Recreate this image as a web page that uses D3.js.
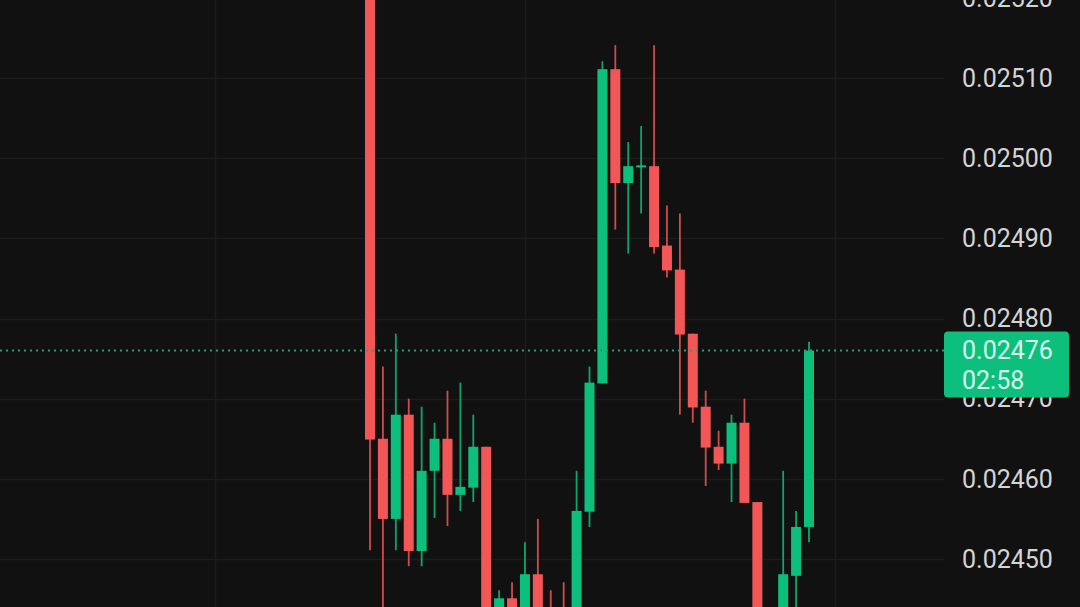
<!DOCTYPE html>
<html>
<head>
<meta charset="utf-8">
<script src="https://cdn.jsdelivr.net/npm/d3@7"></script>
<style>
  html, body { margin: 0; padding: 0; background: #111111; overflow: hidden; }
  svg { display: block; }
  text { font-family: Roboto, "Noto Sans", sans-serif; }
</style>
</head>
<body>
<svg id="chart"></svg>
<script>
// candle data (index = bar number), prices
const opens  = [0.025320, 0.024650, 0.024550, 0.024680, 0.024510, 0.024610, 0.024650, 0.024580, 0.024589, 0.024640,
                0.024420, 0.024451, 0.024430, 0.024481, 0.024430, 0.024420, 0.024430, 0.024559, 0.024719, 0.025111,
                0.024969, 0.024990, 0.024990, 0.024891, 0.024861, 0.024781, 0.024690, 0.024640, 0.024619, 0.024670,
                0.024571, 0.024400, 0.024420, 0.024479, 0.024540];
const highs  = [0.025350, 0.024740, 0.024781, 0.024700, 0.024690, 0.024670, 0.024710, 0.024720, 0.024680, 0.024640,
                0.024461, 0.024471, 0.024521, 0.024550, 0.024461, 0.024471, 0.024610, 0.024740, 0.025121, 0.025141,
                0.025020, 0.025040, 0.025141, 0.024941, 0.024931, 0.024781, 0.024710, 0.024660, 0.024680, 0.024700,
                0.024571, 0.024430, 0.024610, 0.024560, 0.024771];
const lows   = [0.024511, 0.024430, 0.024511, 0.024491, 0.024491, 0.024551, 0.024541, 0.024560, 0.024571, 0.024410,
                0.024400, 0.024410, 0.024410, 0.024420, 0.024380, 0.024390, 0.024420, 0.024540, 0.024719, 0.024911,
                0.024881, 0.024931, 0.024881, 0.024851, 0.024680, 0.024670, 0.024591, 0.024611, 0.024571, 0.024570,
                0.024380, 0.024370, 0.024410, 0.024430, 0.024521];
const closes = [0.024649, 0.024550, 0.024680, 0.024510, 0.024610, 0.024650, 0.024580, 0.024590, 0.024640, 0.024420,
                0.024451, 0.024430, 0.024481, 0.024440, 0.024400, 0.024400, 0.024560, 0.024720, 0.025111, 0.024969,
                0.024990, 0.024991, 0.024889, 0.024860, 0.024780, 0.024689, 0.024639, 0.024619, 0.024670, 0.024570,
                0.024400, 0.024420, 0.024481, 0.024540, 0.024760];

const priceTicks = [0.02450, 0.02460, 0.02470, 0.02480, 0.02490, 0.02500, 0.02510, 0.02520];
const timeGridBars = [-12, 12, 36];   // vertical grid lines, in bar units
const lastPrice = 0.02476;
const countdown = "02:58";

const totalWidth = 1080,
    totalHeight = 607,
    plotRight = 944;

const up = "#0dbf7d",
    down = "#f25656";

const svg = d3.select("#chart")
    .attr("width", totalWidth)
    .attr("height", totalHeight);

svg.append("rect")
    .attr("width", totalWidth)
    .attr("height", totalHeight)
    .attr("fill", "#111111");

const x = d3.scaleLinear().domain([0, 34]).range([370, 809]);
const y = d3.scaleLinear().domain([0.02450, 0.02510]).range([559, 78]);

const candles = opens.map((o, i) => ({
    i: i, open: o, high: highs[i], low: lows[i], close: closes[i]
}));

// grid
const grid = svg.append("g").attr("class", "grid");
grid.selectAll(".hgrid")
    .data(priceTicks)
    .enter()
    .append("line")
    .attr("x1", 0)
    .attr("x2", plotRight)
    .attr("y1", d => Math.round(y(d)) + 0.5)
    .attr("y2", d => Math.round(y(d)) + 0.5)
    .attr("stroke", "#1c1c1c")
    .attr("stroke-width", 1.5);
grid.selectAll(".vgrid")
    .data(timeGridBars)
    .enter()
    .append("line")
    .attr("x1", d => Math.round(x(d)) + 0.5)
    .attr("x2", d => Math.round(x(d)) + 0.5)
    .attr("y1", 0)
    .attr("y2", totalHeight)
    .attr("stroke", "#1c1c1c")
    .attr("stroke-width", 1.5);

// candles
const bodyW = 10;
const candle = svg.append("g")
    .selectAll(".candle")
    .data(candles)
    .enter()
    .append("g")
    .attr("class", "candle");

candle.append("line")
    .attr("x1", d => x(d.i))
    .attr("x2", d => x(d.i))
    .attr("y1", d => y(d.high))
    .attr("y2", d => y(d.low))
    .attr("stroke", d => d.close >= d.open ? up : down)
    .attr("stroke-width", 1.8)
    .attr("stroke-opacity", 0.85);

candle.append("rect")
    .attr("x", d => x(d.i) - bodyW / 2)
    .attr("width", bodyW)
    .attr("y", d => y(Math.max(d.open, d.close)))
    .attr("height", d => Math.max(2, Math.abs(y(d.open) - y(d.close))))
    .attr("fill", d => d.close >= d.open ? up : down);

// last price dotted line
svg.append("line")
    .attr("x1", 0)
    .attr("x2", plotRight)
    .attr("y1", y(lastPrice))
    .attr("y2", y(lastPrice))
    .attr("stroke", "#2f9a70")
    .attr("stroke-width", 2)
    .attr("stroke-dasharray", "2,4");

// price axis labels
svg.append("g")
    .selectAll("text")
    .data(priceTicks)
    .enter()
    .append("text")
    .attr("x", 962)
    .attr("y", d => y(d))
    .attr("dy", "0.35em")
    .attr("fill", "#d4d4d4")
    .style("font-size", "25px")
    .text(d => d3.format(".5f")(d));

// last price tag
const tagY = y(lastPrice);
svg.append("rect")
    .attr("x", plotRight)
    .attr("y", tagY - 19)
    .attr("width", 125)
    .attr("height", 66)
    .attr("rx", 4)
    .attr("fill", up);
svg.append("text")
    .attr("x", 962)
    .attr("y", tagY)
    .attr("dy", "0.35em")
    .attr("fill", "#dcfaee")
    .style("font-size", "25px")
    .text(d3.format(".5f")(lastPrice));
svg.append("text")
    .attr("x", 962)
    .attr("y", tagY + 30)
    .attr("dy", "0.35em")
    .attr("fill", "#dcfaee")
    .style("font-size", "25px")
    .text(countdown);
</script>
</body>
</html>
